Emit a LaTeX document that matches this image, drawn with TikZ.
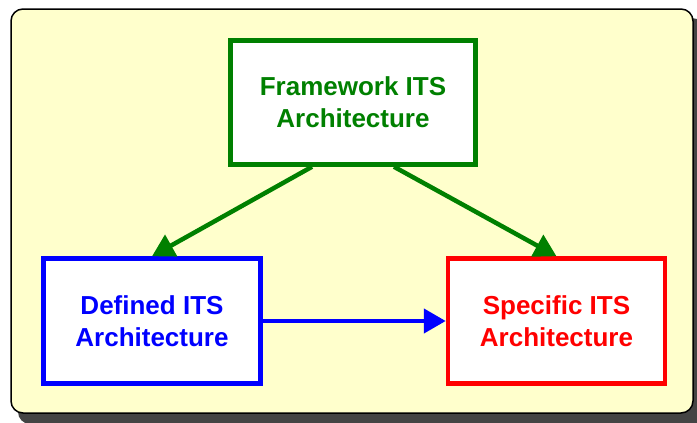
\documentclass[tikz,border=0pt]{standalone}
\usepackage{fontspec}
\setmainfont{Liberation Sans}
\usetikzlibrary{arrows.meta}
\definecolor{paleyellow}{RGB}{255,255,204}
\definecolor{archgreen}{RGB}{0,128,0}
\definecolor{shadowgray}{RGB}{68,68,68}
\begin{document}
\begin{tikzpicture}[x=1pt,y=-1pt,
    archbox/.style={draw, line width=4.5pt, fill=white, inner sep=0pt,
        align=center, font=\fontsize{26}{32}\selectfont\bfseries},
    archarrow/.style={line width=4.5pt, -{Triangle[length=22pt,width=24pt]}}]
                \useasboundingbox (0,0) rectangle (697,423);
                % frame with shadow
                \fill[shadowgray, rounded corners=12pt] (18,18) rectangle (704,424);
                \draw[line width=1.5pt, fill=paleyellow, rounded corners=12pt] (11,9) rectangle (693,413);
                % boxes
                \node[archbox, draw=archgreen, text=archgreen, minimum width=245pt, minimum height=124pt] (fw) at (353,102.5) {Framework ITS\\Architecture};
                \node[archbox, draw=blue, text=blue, minimum width=217pt, minimum height=125pt] (def) at (152,321) {Defined ITS\\Architecture};
                \node[archbox, draw=red, text=red, minimum width=217pt, minimum height=125pt] (spec) at (556.5,321) {Specific ITS\\Architecture};
                % arrows
                \draw[archarrow, archgreen] ([xshift=-41pt]fw.south) -- (def.north);
                \draw[archarrow, archgreen] ([xshift=41pt]fw.south) -- (spec.north);
                \draw[archarrow, blue] (def.east) -- (spec.west);
\end{tikzpicture}
\end{document}
